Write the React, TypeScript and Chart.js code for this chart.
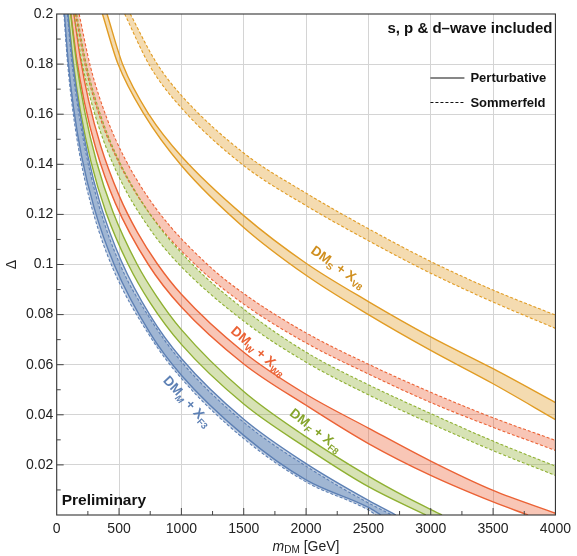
import React, { useEffect, useRef } from 'react';
import { Chart, registerables } from 'chart.js';

Chart.register(...registerables);

type Pt = [number, number];

// ---- axis ticks ----
const xTicks = [0, 500, 1000, 1500, 2000, 2500, 3000, 3500, 4000];
const xTickLabels = ['0', '500', '1000', '1500', '2000', '2500', '3000', '3500', '4000'];
const xMinorTicks = [250, 750, 1250, 1750, 2250, 2750, 3250, 3750];
const yTicks = [0, 0.02, 0.04, 0.06, 0.08, 0.1, 0.12, 0.14, 0.16, 0.18, 0.2];
const yTickLabels = ['', '0.02', '0.04', '0.06', '0.08', '0.1', '0.12', '0.14', '0.16', '0.18', '0.2'];
const yMinorTicks = [0.01, 0.03, 0.05, 0.07, 0.09, 0.11, 0.13, 0.15, 0.17, 0.19];

// ---- curves: [m_DM (GeV), Delta] ----
const blueSolidUpper: Pt[] = [[90, 0.2], [125, 0.1823], [175, 0.1636], [250, 0.1434], [350, 0.1241], [518, 0.1014], [750, 0.0796], [1000, 0.0625], [1500, 0.0382], [2000, 0.0205], [2500, 0.0058], [2720, 0]];
const blueSolidLower: Pt[] = [[62, 0.2], [92, 0.1811], [135, 0.1625], [200, 0.1432], [300, 0.1227], [465, 0.0995], [750, 0.0725], [1000, 0.0558], [1500, 0.0318], [2000, 0.014], [2500, 0.003], [2600, 0]];
const blueDashUpper: Pt[] = [[86, 0.2], [120, 0.1815], [170, 0.1625], [243, 0.1425], [340, 0.1232], [505, 0.1003], [750, 0.0783], [1000, 0.0612], [1500, 0.037], [2000, 0.0195], [2500, 0.0048], [2690, 0]];
const blueDashLower: Pt[] = [[58, 0.2], [87, 0.1805], [129, 0.1615], [192, 0.1418], [290, 0.1212], [450, 0.0985], [750, 0.0712], [1000, 0.0545], [1500, 0.0305], [2000, 0.0132], [2500, 0.002], [2560, 0]];

const greenSolidUpper: Pt[] = [[112, 0.2], [160, 0.1802], [225, 0.161], [320, 0.1409], [450, 0.1212], [645, 0.1001], [800, 0.0874], [1000, 0.074], [1500, 0.0493], [2000, 0.0312], [2500, 0.0155], [2800, 0.0072], [3090, 0]];
const greenSolidLower: Pt[] = [[93, 0.2], [133, 0.1807], [190, 0.1613], [275, 0.141], [395, 0.1209], [572, 0.1002], [750, 0.0847], [1000, 0.0681], [1500, 0.0443], [2000, 0.0269], [2500, 0.0113], [2960, 0]];
const greenDashUpper: Pt[] = [[160, 0.2], [245, 0.1783], [360, 0.1585], [500, 0.1414], [750, 0.12], [1075, 0.1007], [1500, 0.0822], [2000, 0.065], [2500, 0.052], [3000, 0.0405], [3500, 0.0295], [4000, 0.0195]];
const greenDashLower: Pt[] = [[138, 0.2], [212, 0.1785], [325, 0.1569], [500, 0.1349], [750, 0.114], [975, 0.1004], [1500, 0.0774], [2000, 0.061], [2500, 0.048], [3000, 0.0365], [3500, 0.0257], [4000, 0.0158]];

const redSolidUpper: Pt[] = [[138, 0.2], [185, 0.1837], [255, 0.1657], [352, 0.1475], [500, 0.1276], [650, 0.1126], [805, 0.1004], [1000, 0.0881], [1500, 0.065], [2000, 0.0482], [2500, 0.0347], [3000, 0.0215], [3500, 0.0098], [4000, 0.0007]];
const redSolidLower: Pt[] = [[114, 0.2], [160, 0.1822], [222, 0.1648], [315, 0.1461], [470, 0.1245], [735, 0.1], [1000, 0.083], [1500, 0.0603], [2000, 0.0438], [2500, 0.0285], [3000, 0.0158], [3500, 0.0052], [3780, 0]];
const redDashUpper: Pt[] = [[180, 0.2], [270, 0.1791], [400, 0.1587], [550, 0.142], [800, 0.1221], [1205, 0.1002], [1500, 0.0884], [2000, 0.0727], [2500, 0.0602], [3000, 0.049], [3500, 0.0388], [4000, 0.0298]];
const redDashLower: Pt[] = [[150, 0.2], [235, 0.178], [350, 0.1583], [500, 0.1405], [750, 0.12], [1115, 0.0998], [1500, 0.0842], [2000, 0.0687], [2500, 0.0563], [3000, 0.0449], [3500, 0.035], [4000, 0.0258]];

const orangeSolidUpper: Pt[] = [[404, 0.2], [532, 0.1795], [745, 0.1595], [1000, 0.1432], [1500, 0.1195], [2000, 0.1005], [2500, 0.0852], [3000, 0.0711], [3500, 0.0584], [4000, 0.0449]];
const orangeSolidLower: Pt[] = [[367, 0.2], [492, 0.18], [700, 0.16], [1000, 0.1395], [1500, 0.1148], [2000, 0.0957], [2500, 0.08], [3000, 0.0657], [3500, 0.0524], [4000, 0.0381]];
const orangeDashUpper: Pt[] = [[590, 0.2], [800, 0.1805], [1000, 0.1675], [1500, 0.1445], [2000, 0.1285], [2500, 0.1143], [3000, 0.1012], [3500, 0.0898], [4000, 0.0798]];
const orangeDashLower: Pt[] = [[545, 0.2], [750, 0.179], [1000, 0.1625], [1500, 0.1395], [2000, 0.1235], [2500, 0.1095], [3000, 0.0965], [3500, 0.085], [4000, 0.0745]];

const BLUE = '#5E81B5';
const ORANGE = '#E19C24';
const GREEN = '#8FB032';
const RED = '#EB6235';
const FONT = "'Liberation Sans', Arial, Helvetica, sans-serif";

const CURVES: { data: Pt[]; color: string; dashed: boolean }[] = [
  { data: blueSolidUpper, color: BLUE, dashed: false },
  { data: blueSolidLower, color: BLUE, dashed: false },
  { data: blueDashUpper, color: BLUE, dashed: true },
  { data: blueDashLower, color: BLUE, dashed: true },
  { data: greenSolidUpper, color: GREEN, dashed: false },
  { data: greenSolidLower, color: GREEN, dashed: false },
  { data: greenDashUpper, color: GREEN, dashed: true },
  { data: greenDashLower, color: GREEN, dashed: true },
  { data: redSolidUpper, color: RED, dashed: false },
  { data: redSolidLower, color: RED, dashed: false },
  { data: redDashUpper, color: RED, dashed: true },
  { data: redDashLower, color: RED, dashed: true },
  { data: orangeSolidUpper, color: ORANGE, dashed: false },
  { data: orangeSolidLower, color: ORANGE, dashed: false },
  { data: orangeDashUpper, color: ORANGE, dashed: true },
  { data: orangeDashLower, color: ORANGE, dashed: true },
];

const BANDS = [
  { upper: 0, lower: 1, fill: 'rgba(94,129,181,0.36)' },
  { upper: 2, lower: 3, fill: 'rgba(94,129,181,0.36)' },
  { upper: 4, lower: 5, fill: 'rgba(143,176,50,0.36)' },
  { upper: 6, lower: 7, fill: 'rgba(143,176,50,0.36)' },
  { upper: 8, lower: 9, fill: 'rgba(235,98,53,0.36)' },
  { upper: 10, lower: 11, fill: 'rgba(235,98,53,0.36)' },
  { upper: 12, lower: 13, fill: 'rgba(225,156,36,0.36)' },
  { upper: 14, lower: 15, fill: 'rgba(225,156,36,0.36)' },
];

type Part = { t: string; sub?: boolean; italic?: boolean };
const LABELS: { parts: Part[]; x: number; y: number; angle: number; color: string }[] = [
  { parts: [{ t: 'DM' }, { t: 'S', sub: true }, { t: ' + X' }, { t: 'V8', sub: true }], x: 2254, y: 0.0988, angle: 35, color: '#D08F1F' },
  { parts: [{ t: 'DM' }, { t: 'W', sub: true }, { t: ' + X' }, { t: 'W8', sub: true }], x: 1615, y: 0.0652, angle: 41, color: RED },
  { parts: [{ t: 'DM' }, { t: 'F', sub: true, italic: true }, { t: ' + X' }, { t: 'F8', sub: true }], x: 2075, y: 0.0336, angle: 38, color: '#86A52C' },
  { parts: [{ t: 'DM' }, { t: 'M', sub: true, italic: true }, { t: ' + X' }, { t: 'F3', sub: true }], x: 1045, y: 0.0452, angle: 47, color: BLUE },
];

function drawRich(ctx: CanvasRenderingContext2D, parts: Part[], x: number, y: number, angle: number, color: string, size: number) {
  ctx.save();
  ctx.translate(x, y);
  ctx.rotate((angle * Math.PI) / 180);
  const fonts = parts.map((p) => `${p.italic ? 'italic ' : ''}bold ${p.sub ? size * 0.68 : size}px ${FONT}`);
  let total = 0;
  parts.forEach((p, i) => {
    ctx.font = fonts[i];
    total += ctx.measureText(p.t).width;
  });
  let cx = -total / 2;
  ctx.fillStyle = color;
  ctx.textBaseline = 'middle';
  ctx.textAlign = 'left';
  parts.forEach((p, i) => {
    ctx.font = fonts[i];
    ctx.fillText(p.t, cx, p.sub ? size * 0.32 : 0);
    cx += ctx.measureText(p.t).width;
  });
  ctx.restore();
}

const bandsPlugin = {
  id: 'bands',
  beforeDatasetsDraw(chart: any) {
    const { ctx, chartArea: a } = chart;
    ctx.save();
    ctx.beginPath();
    ctx.rect(a.left, a.top, a.right - a.left, a.bottom - a.top);
    ctx.clip();
    BANDS.forEach((b) => {
      const up = chart.getDatasetMeta(b.upper).dataset;
      const lo = chart.getDatasetMeta(b.lower).dataset;
      if (!up || !lo) return;
      up.updateControlPoints(a, 'x');
      lo.updateControlPoints(a, 'x');
      const ue = up.points[up.points.length - 1];
      const le = lo.points[lo.points.length - 1];
      ctx.beginPath();
      up.pathSegment(ctx, up.segments[0], { move: true });
      ctx.lineTo(ue.x, le.y);
      lo.pathSegment(ctx, lo.segments[0], { move: false, reverse: true });
      ctx.closePath();
      ctx.fillStyle = b.fill;
      ctx.fill();
    });
    ctx.restore();
  },
};

const decorPlugin = {
  id: 'decor',
  afterDatasetsDraw(chart: any) {
    const { ctx, chartArea: a, scales } = chart;
    const xs = scales.x;
    const ys = scales.y;
    ctx.save();
    ctx.strokeStyle = '#333';
    ctx.lineWidth = 1.1;
    ctx.strokeRect(a.left, a.top, a.right - a.left, a.bottom - a.top);
    ctx.lineWidth = 1;
    ctx.strokeStyle = '#444';
    ctx.beginPath();
    xTicks.slice(1, -1).forEach((v) => {
      const px = xs.getPixelForValue(v);
      ctx.moveTo(px, a.bottom);
      ctx.lineTo(px, a.bottom - 7);
    });
    xMinorTicks.forEach((v) => {
      const px = xs.getPixelForValue(v);
      ctx.moveTo(px, a.bottom);
      ctx.lineTo(px, a.bottom - 4);
    });
    yTicks.slice(1, -1).forEach((v) => {
      const py = ys.getPixelForValue(v);
      ctx.moveTo(a.left, py);
      ctx.lineTo(a.left + 7, py);
    });
    yMinorTicks.forEach((v) => {
      const py = ys.getPixelForValue(v);
      ctx.moveTo(a.left, py);
      ctx.lineTo(a.left + 4, py);
    });
    ctx.stroke();

    LABELS.forEach((l) => {
      drawRich(ctx, l.parts, xs.getPixelForValue(l.x), ys.getPixelForValue(l.y), l.angle, l.color, 13.5);
    });

    ctx.fillStyle = '#111';
    ctx.font = `bold 15px ${FONT}`;
    ctx.textAlign = 'right';
    ctx.textBaseline = 'middle';
    ctx.fillText('s, p & d\u2013wave included', a.right - 3, a.top + 15);

    ctx.strokeStyle = '#111';
    ctx.lineWidth = 1.2;
    ctx.beginPath();
    ctx.moveTo(a.right - 125, a.top + 64);
    ctx.lineTo(a.right - 91, a.top + 64);
    ctx.stroke();
    ctx.setLineDash([3, 2]);
    ctx.beginPath();
    ctx.moveTo(a.right - 125, a.top + 88.5);
    ctx.lineTo(a.right - 91, a.top + 88.5);
    ctx.stroke();
    ctx.setLineDash([]);
    ctx.font = `bold 13px ${FONT}`;
    ctx.textAlign = 'left';
    ctx.fillText('Perturbative', a.right - 85, a.top + 64);
    ctx.fillText('Sommerfeld', a.right - 85, a.top + 89);

    ctx.font = `bold 15.5px ${FONT}`;
    ctx.fillText('Preliminary', a.left + 5, a.bottom - 14);

    ctx.fillStyle = '#222';
    const parts: { t: string; f: string; dy: number }[] = [
      { t: 'm', f: `italic 14px ${FONT}`, dy: 0 },
      { t: 'DM', f: `10px ${FONT}`, dy: 3.5 },
      { t: ' [GeV]', f: `14px ${FONT}`, dy: 0 },
    ];
    let tw = 0;
    parts.forEach((p) => {
      ctx.font = p.f;
      tw += ctx.measureText(p.t).width;
    });
    let cx = (a.left + a.right) / 2 - tw / 2;
    parts.forEach((p) => {
      ctx.font = p.f;
      ctx.fillText(p.t, cx, a.bottom + 32 + p.dy);
      cx += ctx.measureText(p.t).width;
    });
    ctx.save();
    ctx.translate(12, (a.top + a.bottom) / 2);
    ctx.rotate(-Math.PI / 2);
    ctx.font = `14px ${FONT}`;
    ctx.textAlign = 'center';
    ctx.fillText('\u0394', 0, 0);
    ctx.restore();
    ctx.restore();
  },
};

export default function App() {
  const ref = useRef<HTMLCanvasElement>(null);
  useEffect(() => {
    if (!ref.current) return;
    const chart = new Chart(ref.current, {
      type: 'line',
      data: {
        datasets: CURVES.map((c) => ({
          data: c.data.map(([x, y]) => ({ x, y })),
          borderColor: c.color,
          borderWidth: c.dashed ? 1.1 : 1.4,
          borderDash: c.dashed ? [3, 2] : [],
          pointRadius: 0,
          fill: false,
          cubicInterpolationMode: 'monotone' as const,
        })),
      },
      options: {
        animation: false,
        responsive: false,
        devicePixelRatio: 1,
        layout: { padding: { left: 0, top: 14, right: 19.5, bottom: 0 } },
        plugins: { legend: { display: false }, tooltip: { enabled: false } },
        scales: {
          x: {
            type: 'linear',
            min: 0,
            max: 4000,
            afterBuildTicks: (s: any) => {
              s.ticks = xTicks.map((v) => ({ value: v }));
            },
            afterFit: (s: any) => {
              s.height = 41;
            },
            ticks: {
              callback: (_v: any, i: number) => xTickLabels[i],
              font: { family: FONT, size: 14 },
              color: '#222',
              padding: 6,
              maxRotation: 0,
              autoSkip: false,
            },
            grid: {
              drawTicks: false,
              color: (c: any) => (c.index === 0 || c.index === xTicks.length - 1 ? 'rgba(0,0,0,0)' : '#d4d4d4'),
              lineWidth: 1,
            },
            border: { display: false },
          },
          y: {
            type: 'linear',
            min: 0,
            max: 0.2,
            afterBuildTicks: (s: any) => {
              s.ticks = yTicks.map((v) => ({ value: v }));
            },
            afterFit: (s: any) => {
              s.width = 56.7;
            },
            ticks: {
              callback: (_v: any, i: number) => yTickLabels[i],
              font: { family: FONT, size: 14 },
              color: '#222',
              padding: 3.5,
              autoSkip: false,
            },
            grid: {
              drawTicks: false,
              color: (c: any) => (c.index === 0 || c.index === yTicks.length - 1 ? 'rgba(0,0,0,0)' : '#d4d4d4'),
              lineWidth: 1,
            },
            border: { display: false },
          },
        },
      },
      plugins: [bandsPlugin, decorPlugin],
    });
    return () => chart.destroy();
  }, []);
  return (
    <div style={{ position: 'fixed', left: 0, top: 0, width: 577, height: 556, background: '#fff' }}>
      <canvas ref={ref} width={577} height={556} style={{ display: 'block' }} />
    </div>
  );
}
